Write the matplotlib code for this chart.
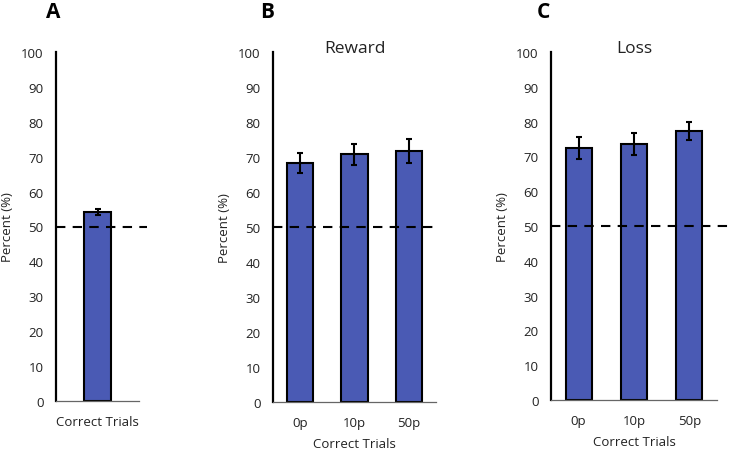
import numpy as np
import matplotlib
matplotlib.use("Agg")
import matplotlib.pyplot as plt
import matplotlib.transforms as transforms

plt.rcParams["font.family"] = ["Open Sans", "DejaVu Sans"]

# panel A: overall accuracy
a_labels = ["Correct Trials"]
a_values = [54.2]
a_errors = [0.9]

# panel B: reward conditions
b_labels = ["0p", "10p", "50p"]
b_values = [68.3, 70.8, 71.8]
b_errors = [2.9, 3.0, 3.4]

# panel C: loss conditions
c_labels = ["0p", "10p", "50p"]
c_values = [72.4, 73.6, 77.3]
c_errors = [3.1, 3.2, 2.7]

chance = 50
yticks = list(range(0, 101, 10))

W, H = 731, 452
BAR_COLOR = "#4a5ab4"
TEXT = "#222222"


def px_axes(fig, left, right, bottom, top):
    # pixel box -> figure fraction
    return fig.add_axes([left / W, (H - bottom) / H, (right - left) / W, (bottom - top) / H])


def style_axes(ax):
    ax.set_ylim(0, 100)
    ax.set_yticks(yticks)
    for side in ("top", "right"):
        ax.spines[side].set_visible(False)
    ax.spines["left"].set_linewidth(1.6)
    ax.spines["left"].set_color("black")
    ax.spines["bottom"].set_linewidth(0.9)
    ax.spines["bottom"].set_color("#666666")
    ax.tick_params(axis="y", length=0, pad=9, labelsize=9.5, colors=TEXT)
    ax.tick_params(axis="x", length=0, pad=10, labelsize=9.5, colors=TEXT)


def draw_panel(ax, labels, values, errors, width, dash_end, letter, letter_x, title=None, xlabel=None):
    x = np.arange(len(labels))
    ax.bar(x, values, width=width, color=BAR_COLOR, edgecolor="black", linewidth=1.5, zorder=2)
    ax.errorbar(x, values, yerr=errors, fmt="none", ecolor="black", elinewidth=1.5,
                capsize=2.5, capthick=1.5, zorder=3)
    ax.set_xlim(-0.5, len(labels) - 0.5)
    ax.set_xticks(x)
    ax.set_xticklabels(labels)
    style_axes(ax)

    trans = transforms.blended_transform_factory(ax.transAxes, ax.transData)
    ax.plot([0, dash_end], [chance, chance], transform=trans, color="black",
            linestyle=(0, (4.5, 3.5)), linewidth=1.5, clip_on=False, zorder=4)

    ax.set_ylabel("Percent (%)", fontsize=9.5, va="center", color=TEXT)
    bbox = ax.get_position()
    ax.yaxis.set_label_coords(-49 / (bbox.width * W), 0.5)

    if title:
        ax.text(0.5, 1.012, title, transform=ax.transAxes, ha="center", va="center",
                fontsize=12.5, color=TEXT)
    if xlabel:
        ax.set_xlabel(xlabel, fontsize=9.5, color=TEXT, labelpad=6)

    ax.figure.text(letter_x / W, 1 - 13 / H, letter, ha="center", va="center",
                   fontsize=15, fontweight="bold")


fig = plt.figure(figsize=(W / 100, H / 100), dpi=100)

ax_a = px_axes(fig, 56, 139, 402, 53)
draw_panel(ax_a, a_labels, a_values, a_errors, 0.33, (147 - 56) / 83, "A", 53)

ax_b = px_axes(fig, 273, 436, 403, 53)
draw_panel(ax_b, b_labels, b_values, b_errors, 0.48, 1.0, "B", 267,
           title="Reward", xlabel="Correct Trials")

ax_c = px_axes(fig, 551, 717, 401, 53)
draw_panel(ax_c, c_labels, c_values, c_errors, 0.47, (731 - 551) / 166, "C", 543,
           title="Loss", xlabel="Correct Trials")

fig.savefig("out.png", dpi=100)
